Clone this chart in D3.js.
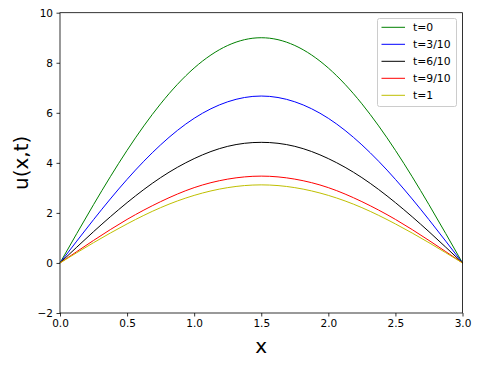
<!DOCTYPE html>
<html>
  <script src="https://d3js.org/d3.v7.min.js"></script>
  <style>
    body { margin: 0; background: #fff; }
    svg { font-family: 'DejaVu Sans', sans-serif; }
  </style>
  <body>
    <svg id="vis" width="480" height="368"></svg>
    <script>

      // x positions sampled along the curves
      xs = [0, 0.25, 0.5, 0.75, 1.0, 1.25, 1.5, 1.75, 2.0, 2.25, 2.5, 2.75, 3.0]

      // u(x,t) values
      u0  = [0, 2.33, 4.50, 6.36, 7.79, 8.69, 9.00, 8.69, 7.79, 6.36, 4.50, 2.33, 0]
      u3  = [0, 1.73, 3.34, 4.72, 5.78, 6.44, 6.67, 6.44, 5.78, 4.72, 3.34, 1.73, 0]
      u6  = [0, 1.25, 2.41, 3.41, 4.17, 4.66, 4.82, 4.66, 4.17, 3.41, 2.41, 1.25, 0]
      u9  = [0, 0.90, 1.74, 2.45, 3.01, 3.35, 3.47, 3.35, 3.01, 2.45, 1.74, 0.90, 0]
      u10 = [0, 0.81, 1.56, 2.21, 2.70, 3.01, 3.12, 3.01, 2.70, 2.21, 1.56, 0.81, 0]

      labels = ['t=0', 't=3/10', 't=6/10', 't=9/10', 't=1']
      colors = ['#008000', '#0000ff', '#000000', '#ff0000', '#bfbf00']
      series = [u0, u3, u6, u9, u10]

      xTicks = [0, 0.5, 1.0, 1.5, 2.0, 2.5, 3.0]
      yTicks = [-2, 0, 2, 4, 6, 8, 10]

      var svg = d3.select("#vis")

      var x = d3.scaleLinear().domain([0, 3]).range([60, 462.5])
      var y = d3.scaleLinear().domain([-2, 10]).range([313, 12.7])

      var line = d3.line()
        .x((d, i) => x(xs[i]))
        .y(d => y(d))
        .curve(d3.curveNatural)

      series.forEach((s, k) => {
        svg.append("path")
          .attr("d", line(s))
          .style("fill", "none")
          .style("stroke", colors[k])
          .style("stroke-width", 1)
      })

      // axes
      var xAxis = svg.append("g")
        .attr("transform", `translate(0,${y(-2)})`)
        .call(d3.axisBottom(x).tickValues(xTicks).tickFormat(d3.format(".1f")).tickSizeOuter(0).tickSize(3.5).tickPadding(3.5))
      var yAxis = svg.append("g")
        .attr("transform", `translate(${x(0)},0)`)
        .call(d3.axisLeft(y).tickValues(yTicks).tickFormat(d => d < 0 ? "\u2212" + (-d) : d).tickSizeOuter(0).tickSize(3.5).tickPadding(3.5))

      ;[xAxis, yAxis].forEach(a => {
        a.select(".domain").remove()
        a.selectAll("text").style("font-size", "10.5px").style("fill", "#000").style("font-family", "'DejaVu Sans', sans-serif")
        a.selectAll("line").style("stroke", "#000").style("stroke-width", 0.8)
      })

      // frame
      svg.append("rect")
        .attr("x", x(0))
        .attr("y", y(10))
        .attr("width", x(3) - x(0))
        .attr("height", y(-2) - y(10))
        .style("fill", "none")
        .style("stroke", "#000")
        .style("stroke-width", 0.8)

      svg.append("text")
        .attr("x", (x(0) + x(3)) / 2)
        .attr("y", 353)
        .attr("text-anchor", "middle")
        .style("font-size", "20px")
        .text("x")

      svg.append("text")
        .attr("transform", `translate(28,${(y(-2) + y(10)) / 2}) rotate(-90)`)
        .attr("text-anchor", "middle")
        .style("font-size", "20px")
        .text("u(x,t)")

      // legend
      var lg = svg.append("g")
      lg.append("rect")
        .attr("x", 377.5)
        .attr("y", 18.5)
        .attr("width", 79)
        .attr("height", 88)
        .attr("rx", 2)
        .style("fill", "rgba(255,255,255,0.8)")
        .style("stroke", "#ccc")
        .style("stroke-width", 1)

      labels.forEach((l, k) => {
        yy = 27.3 + k * 17
        lg.append("line")
          .attr("x1", 381.5)
          .attr("x2", 405)
          .attr("y1", yy)
          .attr("y2", yy)
          .style("stroke", colors[k])
          .style("stroke-width", 1)
        lg.append("text")
          .attr("x", 413)
          .attr("y", yy + 3.9)
          .style("font-size", "10.8px")
          .text(l)
      })
    </script>
  </body>
</html>
